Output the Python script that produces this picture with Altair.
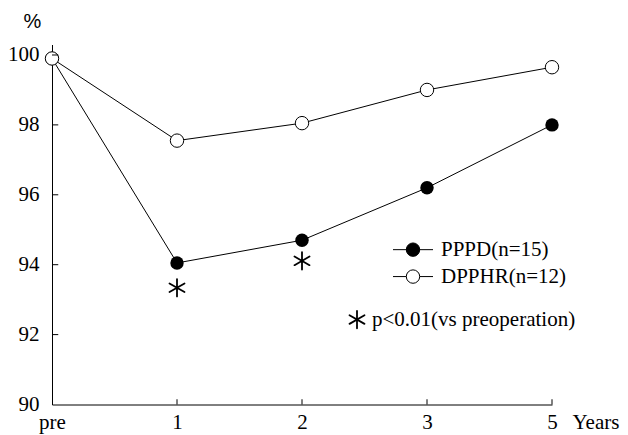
import altair as alt
import pandas as pd

# categories (equally spaced positions on the x axis)
x_labels = ["pre", "1", "2", "3", "5"]
x_pos = [0, 1, 2, 3, 4]

pppd = [99.9, 94.05, 94.7, 96.2, 98.0]
dpphr = [99.9, 97.55, 98.05, 99.0, 99.65]

# significance markers (x position, y position)
sig_x = [1, 2]
sig_y = [93.34, 94.11]

y_ticks = [90, 92, 94, 96, 98, 100]

# legend entries (positioned in data space)
leg_names = ["PPPD(n=15)", "DPPHR(n=12)"]
leg_fill = ["black", "white"]
leg_y = [94.43, 93.66]
leg_x0, leg_xc, leg_x1, leg_xt = 2.728, 2.888, 3.048, 3.112
note_y = 92.43
note_text = "p<0.01(vs preoperation)"

SERIF = "Liberation Serif, Times New Roman, Times, serif"
FS = 21

label_expr = "datum.value == 0 ? 'pre' : datum.value == 1 ? '1' : datum.value == 2 ? '2' : datum.value == 3 ? '3' : '5'"

xs = alt.Scale(domain=[0, 4], nice=False, zero=False)
ys = alt.Scale(domain=[90, 100.3], nice=False, zero=False)

df = pd.DataFrame({
    "x": x_pos * 2,
    "v": pppd + dpphr,
    "s": ["PPPD"] * 5 + ["DPPHR"] * 5,
    "lab": x_labels * 2,
})
d_p = df[df.s == "PPPD"]
d_d = df[df.s == "DPPHR"]

x_enc = alt.X("x:Q", scale=xs, axis=alt.Axis(
    values=x_pos, labelExpr=label_expr, ticks=False, tickSize=0, grid=False,
    domainColor="black", domainWidth=1, labelFont=SERIF, labelFontSize=FS,
    labelColor="black", labelPadding=24, labelBaseline="alphabetic", labelFlush=False,
    title="Years", titleFont=SERIF,
    titleFontSize=FS, titleFontWeight="normal", titleColor="black",
    titleX=520, titleY=24, titleAlign="left", titleBaseline="alphabetic"))
y_enc = alt.Y("v:Q", scale=ys, axis=alt.Axis(
    values=y_ticks, ticks=False, tickSize=0, grid=False, domainColor="black",
    domainWidth=1, labelFont=SERIF, labelFontSize=FS, labelColor="black",
    labelPadding=13, labelFlush=False, title="%", titleFont="Liberation Sans", titleFontSize=20,
    titleFontWeight="normal", titleColor="black", titleAngle=0,
    titleX=-29, titleY=-17.5, titleAlign="left", titleBaseline="alphabetic"))

line_p = alt.Chart(d_p).mark_line(color="black", strokeWidth=1).encode(x=x_enc, y=y_enc)
line_d = alt.Chart(d_d).mark_line(color="black", strokeWidth=1).encode(x="x:Q", y="v:Q")
pt_p = alt.Chart(d_p).mark_point(filled=True, color="black", size=180, opacity=1).encode(x="x:Q", y="v:Q")
pt_d = alt.Chart(d_d).mark_point(filled=True, fill="white", stroke="black", strokeWidth=1,
                                   size=180, opacity=1).encode(x="x:Q", y="v:Q")

# inward tick marks
xt = pd.DataFrame({"x": x_pos[1:], "y0": [90] * 4, "y1": [90.15] * 4})
xticks = alt.Chart(xt).mark_rule(color="black", strokeWidth=1).encode(x="x:Q", y="y0:Q", y2="y1:Q")
yt = pd.DataFrame({"y": y_ticks[1:], "x0": [0] * 5, "x1": [0.05] * 5})
yticks = alt.Chart(yt).mark_rule(color="black", strokeWidth=1).encode(y="y:Q", x="x0:Q", x2="x1:Q")

STAR = "M 0 -1 L 0 1 M -0.866 -0.5 L 0.866 0.5 M -0.866 0.5 L 0.866 -0.5"
AST = dict(shape=STAR, filled=False, stroke="black", strokeWidth=1.8, size=300, opacity=1,
           strokeCap="round")
sig = alt.Chart(pd.DataFrame({"x": sig_x, "y": sig_y})).mark_point(**AST).encode(x="x:Q", y="y:Q")

leg = pd.DataFrame({"name": leg_names, "fill": leg_fill, "y": leg_y,
                    "x0": [leg_x0] * 2, "x1": [leg_x1] * 2, "xc": [leg_xc] * 2, "xt": [leg_xt] * 2})
leg_line = alt.Chart(leg).mark_rule(color="black", strokeWidth=1).encode(x="x0:Q", x2="x1:Q", y="y:Q")
leg_pt = alt.Chart(leg).mark_point(filled=True, stroke="black", strokeWidth=1, size=180, opacity=1).encode(
    x="xc:Q", y="y:Q", fill=alt.Fill("fill:N", scale=None))
leg_txt = alt.Chart(leg).mark_text(font=SERIF, fontSize=FS, align="left", baseline="middle", color="black").encode(
    x="xt:Q", y="y:Q", text="name:N")

note = pd.DataFrame({"xa": [2.44], "xt": [2.56], "y": [note_y], "t": [note_text]})
note_ast = alt.Chart(note).mark_point(**AST).encode(x="xa:Q", y="y:Q")
note_txt = alt.Chart(note).mark_text(font=SERIF, fontSize=FS, align="left", baseline="middle", color="black").encode(
    x="xt:Q", y="y:Q", text="t:N")

chart = alt.layer(line_p, line_d, pt_p, pt_d, xticks, yticks, sig, leg_line, leg_pt, leg_txt,
                  note_ast, note_txt).properties(
    width=500, height=360,
    background="white",
    autosize=alt.AutoSizeParams(type="none"),
    padding={"left": 44, "top": 36.5, "right": 68, "bottom": 30},
).configure_view(strokeWidth=0, stroke=None)

chart.save("out.html", embed_options={"renderer": "svg", "actions": False})
